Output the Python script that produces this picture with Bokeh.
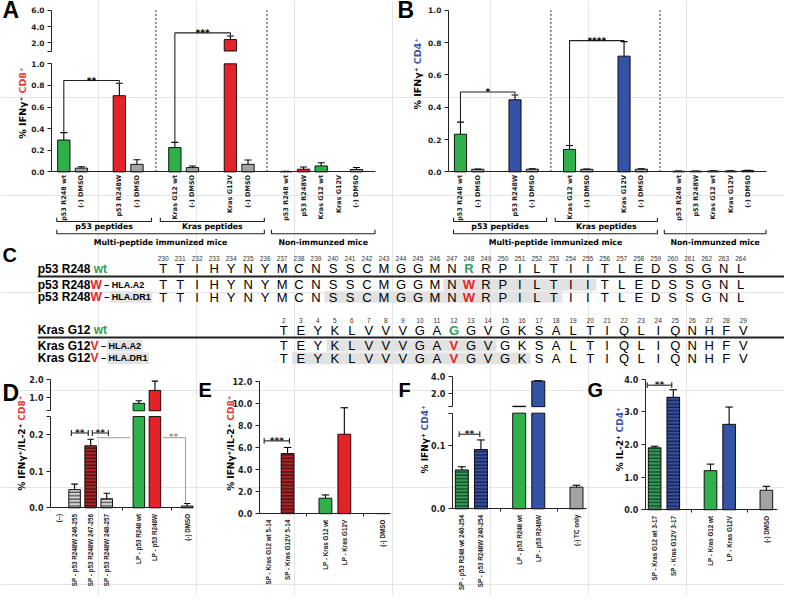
import math
from bokeh.plotting import figure
from bokeh.models import Range1d, LinearAxis, FixedTicker, ColumnDataSource
from bokeh.core.properties import value, field
from bokeh.embed import file_html
from bokeh.resources import INLINE

# ============================ data ============================
AB_labels = ["p53 R248 wt", "(-) DMSO", "p53 R248W", "(-) DMSO",
             "Kras G12 wt", "(-) DMSO", "Kras G12V", "(-) DMSO",
             "p53 R248 wt", "p53 R248W", "Kras G12 wt", "Kras G12V", "(-) DMSO"]
AB_groups = [2, 2, 2, 2, 5]
AB_kinds = ["wt", "neg", "mut", "neg", "wt", "neg", "mut", "neg",
            "wt", "mut", "wt", "mut", "neg"]
A_mean = [0.295, 0.035, 0.705, 0.07, 0.225, 0.04, 2.40, 0.07,
          0.004, 0.025, 0.055, 0.0, 0.022]
A_sem = [0.068, 0.012, 0.115, 0.042, 0.048, 0.014, 0.45, 0.04,
         0.002, 0.02, 0.029, 0.0, 0.018]
B_mean = [0.233, 0.016, 0.446, 0.017, 0.139, 0.016, 0.716, 0.017,
          0.004, 0.004, 0.005, 0.005, 0.008]
B_sem = [0.075, 0.002, 0.03, 0.002, 0.024, 0.002, 0.09, 0.002,
         0.001, 0.001, 0.001, 0.001, 0.002]
AB_peptide_groups = ["p53 peptides", "Kras peptides"]
AB_mouse_groups = ["Multi-peptide immunized mice", "Non-immunzed mice"]
A_sig = ["**", "***"]
B_sig = ["*", "****"]

D_labels = ["(--)", "SP - p53 R248W 246-255", "SP - p53 R248W 247-256",
            "SP - p53 R248W 248-257", "LP - p53 R248 wt", "LP - p53 R248W", "(-) DMSO"]
D_groups = [4, 2, 1]
D_kinds = ["none", "spg", "spr", "spg", "wt", "mut", "neg"]
D_mean = [0.0, 0.05, 0.17, 0.025, 0.70, 1.40, 0.005]
D_sem = [0.0, 0.015, 0.018, 0.015, 0.14, 0.50, 0.007]

E_labels = ["SP - Kras G12 wt 5-14", "SP - Kras G12V 5-14", "LP - Kras G12 wt",
            "LP - Kras G12V", "(-) DMSO"]
E_groups = [2, 2, 1]
E_kinds = ["none", "spr", "wt", "mut", "neg"]
E_mean = [0.0, 5.45, 1.40, 7.20, 0.02]
E_sem = [0.0, 0.55, 0.30, 2.40, 0.0]

F_labels = ["SP - p53 R248 wt 240-254", "SP - p53 R248W 240-254", "LP - p53 R248 wt",
            "LP - p53 R248W", "(-) TC only"]
F_groups = [2, 2, 1]
F_kinds = ["spgr", "spb", "wt", "mutb", "neg"]
F_mean = [0.061, 0.093, 0.50, 3.45, 0.034]
F_sem = [0.005, 0.015, 0.0, 0.05, 0.003]

G_labels = ["SP - Kras G12 wt 3-17", "SP - Kras G12V 3-17", "LP - Kras G12 wt",
            "LP - Kras G12V", "(-) DMSO"]
G_groups = [2, 2, 1]
G_kinds = ["spgr", "spb", "wt", "mutb", "neg"]
G_mean = [1.90, 3.45, 1.20, 2.62, 0.60]
G_sem = [0.05, 0.23, 0.20, 0.53, 0.12]

p53_first = 230
p53_wt = "TTIHYNYMCNSSCMGGMNRRPILTIITLEDSSGNL"
p53_mut = (248, "W")
p53_hla = [("HLA.A2", 247, 255), ("HLA.DR1", 240, 253)]
kras_first = 2
kras_wt = "TEYKLVVVGAGGVGKSALTIQLIQNHFV"
kras_mut = (12, "V")
kras_hla = [("HLA.A2", 5, 14), ("HLA.DR1", 3, 16)]

# ============================ styling ============================
GREEN = "#2fb04a"; RED = "#e42328"; BLUE = "#3453a6"; GRAY = "#a3a3a3"
GREEN_T = "#2f9e58"; RED_T = "#e8262a"; CD8_C = "#e5393a"; CD4_C = "#4055a8"
STY = {"wt": (GREEN, None), "mut": (RED, None), "mutb": (BLUE, None), "neg": (GRAY, None),
       "spg": ("#d2d2d2", "#3a3a3a"), "spr": ("#a8262a", "#3a0909"),
       "spgr": ("#38985a", "#0b3818"), "spb": ("#3a4f9e", "#0d1640")}
FD = "DejaVu Sans"
FL = "Liberation Sans"
INK = "#222222"

REF_W, REF_H = 800, 611
SX = 784 / 800.0


class Map:
    def __init__(self, v0, p0, v1, p1):
        self.v0, self.p0 = v0, p0
        self.k = (p1 - p0) / (v1 - v0)

    def p(self, v):
        return self.p0 + (v - self.v0) * self.k

    def v(self, px):
        return self.v0 + (px - self.p0) / self.k


XR, YR = {}, {}


def xmap(name, m):
    XR[name] = Range1d(start=m.v(0), end=m.v(REF_W))
    return m


def ymap(name, m):
    YR[name] = Range1d(start=m.v(REF_H), end=m.v(0))
    return m


p = figure(width=784, height=595, x_range=Range1d(0, REF_W), y_range=Range1d(REF_H, 0),
           x_axis_location=None, y_axis_location=None, toolbar_location=None,
           output_backend="svg", min_border=0, min_border_left=0, min_border_right=0,
           min_border_top=0, min_border_bottom=0, outline_line_color=None,
           background_fill_color="white", border_fill_color="white")

xA = xmap("A", Map(0, 52, 18.4, 383)); yAlo = ymap("Alo", Map(0, 176, 1, 65)); yAhi = ymap("Ahi", Map(2, 43.5, 6, 10))
xB = xmap("B", Map(0, 457, 18.4, 782)); yB = ymap("B", Map(0, 176, 1, 10))
xD = xmap("D", Map(0, 51, 1, 67.4)); yDlo = ymap("Dlo", Map(0, 521, 0.1, 483.5)); yDhi = ymap("Dhi", Map(1, 408, 2, 389))
xE = xmap("E", Map(0, 264, 1, 283.3)); yE = ymap("E", Map(0, 527, 12, 391))
xF = xmap("F", Map(0, 461, 1, 480.5)); yFlo = ymap("Flo", Map(0, 522, 0.1, 456.5)); yFhi = ymap("Fhi", Map(2, 403.5, 4, 386))
xG = xmap("G", Map(0, 658, 1, 677)); yG = ymap("G", Map(0, 523, 4, 389))
p.extra_x_ranges = XR
p.extra_y_ranges = YR


def T(xs, ys, texts, size, color="black", font=FD, style="bold", align="center",
      base="middle", angle=0.0, xn="default", yn="default"):
    p.text(x=list(xs), y=list(ys), text=list(texts), text_font=value(font),
           text_font_size=value(f"{size}px"), text_font_style=style, text_color=color,
           text_align=align, text_baseline=base, angle=angle,
           x_range_name=xn, y_range_name=yn)


def positions(groups, start, gap):
    out, x = [], start
    for n in groups:
        for _ in range(n):
            out.append(round(x, 3))
            x += 1.0
        x += gap
    return out


def draw_bars(xn, pos, mean, sem, kinds, segs, bw, cw, remap=None):
    remap = remap or {}
    for (yn, lo, hi) in segs:
        groups = {}
        for i, (m, k) in enumerate(zip(mean, kinds)):
            k = remap.get(k, k)
            if k == "none" or m <= lo:
                continue
            groups.setdefault(STY[k][1] is not None, []).append((i, k))
        for hatched, items in groups.items():
            src = ColumnDataSource(dict(
                x=[pos[i] for i, _ in items],
                top=[min(mean[i], hi) for i, _ in items],
                bottom=[lo] * len(items),
                fc=[STY[k][0] for _, k in items],
                hc=[STY[k][1] or "black" for _, k in items]))
            kw = dict(hatch_pattern="horizontal_line", hatch_color=field("hc"),
                      hatch_scale=3.4, hatch_weight=1.1) if hatched else {}
            p.vbar(x="x", top="top", bottom="bottom", width=bw, source=src,
                   fill_color=field("fc"), line_color="black", line_width=0.9,
                   x_range_name=xn, y_range_name=yn, **kw)
        wx, w0, w1, cx0, cx1, cy = [], [], [], [], [], []
        for i, (m, s) in enumerate(zip(mean, sem)):
            if s <= 0 or kinds[i] == "none":
                continue
            t = m + s
            a, b = max(m, lo), min(t, hi)
            if b > a:
                wx.append(pos[i]); w0.append(a); w1.append(b)
            if lo <= t <= hi:
                cx0.append(pos[i] - cw); cx1.append(pos[i] + cw); cy.append(t)
        if wx:
            p.segment(x0=wx, y0=w0, x1=wx, y1=w1, line_color="black", line_width=1.1,
                      x_range_name=xn, y_range_name=yn)
        if cy:
            p.segment(x0=cx0, y0=cy, x1=cx1, y1=cy, line_color="black", line_width=1.1,
                      x_range_name=xn, y_range_name=yn)


def y_axis(xn, yn, lo, hi, ticks, labels, size=7.5):
    ax = LinearAxis(x_range_name=xn, y_range_name=yn, fixed_location=0, bounds=(lo, hi),
                    ticker=FixedTicker(ticks=list(ticks), minor_ticks=[]),
                    major_label_overrides={t: l for t, l in zip(ticks, labels)},
                    major_tick_out=4, major_tick_in=0, minor_tick_out=0, minor_tick_in=0,
                    major_label_standoff=3, major_label_text_font=FD,
                    major_label_text_font_style="bold", major_label_text_font_size=f"{size}px",
                    axis_line_color=INK, axis_line_width=1, major_tick_line_color=INK,
                    major_label_text_color=INK)
    p.add_layout(ax, "left")


def x_axis(xn, yn, pos, labels, xend, empties=(), size=6.5, font=FD):
    ax = LinearAxis(x_range_name=xn, y_range_name=yn, fixed_location=0, bounds=(0, xend),
                    ticker=FixedTicker(ticks=list(pos), minor_ticks=list(empties)),
                    major_label_overrides={x: l for x, l in zip(pos, labels)},
                    major_label_orientation=math.pi / 2, major_tick_out=0, major_tick_in=0,
                    minor_tick_out=3, minor_tick_in=0, major_label_standoff=3,
                    major_label_text_font=font, major_label_text_font_style="bold",
                    major_label_text_font_size=f"{size}px", axis_line_color=INK,
                    axis_line_width=1, minor_tick_line_color=INK, major_label_text_color=INK)
    p.add_layout(ax, "below")


def elbow(xn, yn, x0, y0, x1, y1, h, label, size=9):
    p.multi_line([[x0, x0, x1, x1]], [[y0, h, h, y1]], x_range_name=xn, y_range_name=yn,
                 line_color=INK, line_width=1.1)
    T([(x0 + x1) / 2], [h], [label], size, xn=xn, yn=yn)


def hbar(xn, yn, m, x0, x1, h, label, color=INK, size=9):
    d = 3.0 / abs(m.k)
    p.multi_line([[x0, x0], [x0, x1], [x1, x1]], [[h - d, h + d], [h, h], [h - d, h + d]],
                 x_range_name=xn, y_range_name=yn, line_color=color, line_width=1.1)
    T([(x0 + x1) / 2], [h], [label], size, color=color, xn=xn, yn=yn)


def ytitle(x, y, black, colored, ccol, size=8.5):
    T([x], [y + 1.5], [black], size, align="right", angle=math.pi / 2)
    T([x], [y - 1.5], [colored], size, color=ccol, align="left", angle=math.pi / 2)


# ============================ panels A / B ============================
ab_pos = positions(AB_groups, 0.7, 1.15)
ab_div = [(ab_pos[3] + ab_pos[4]) / 2, (ab_pos[7] + ab_pos[8]) / 2]
AB_END = 18.4

draw_bars("A", ab_pos, A_mean, A_sem, AB_kinds, [("Alo", 0, 1.0), ("Ahi", 1.0, 6.0)], 0.7, 0.2)
y_axis("A", "Alo", 0, 1.0, [0, 0.2, 0.4, 0.6, 0.8, 1.0], ["0.0", "0.2", "0.4", "0.6", "0.8", "1.0"])
y_axis("A", "Ahi", 1.0, 6.0, [1.0, 2.0, 4.0, 6.0], ["", "2.0", "4.0", "6.0"])
x_axis("A", "Alo", ab_pos, AB_labels, AB_END)
p.segment(x0=ab_div, y0=[0, 0], x1=ab_div, y1=[yAlo.v(10)] * 2, line_color=INK,
          line_dash="2 2", line_width=1, x_range_name="A", y_range_name="Alo")
elbow("A", "Alo", ab_pos[0], A_mean[0] + A_sem[0], ab_pos[2], A_mean[2] + A_sem[2] + 0.005,
      0.845, A_sig[0])
elbow("A", "Ahi", ab_pos[4], yAhi.v(yAlo.p(A_mean[4] + A_sem[4])), ab_pos[6],
      A_mean[6] + A_sem[6] + 0.05, 3.22, A_sig[1])

draw_bars("B", ab_pos, B_mean, B_sem, AB_kinds, [("B", 0, 1.0)], 0.7, 0.2, remap={"mut": "mutb"})
y_axis("B", "B", 0, 1.0, [0, 0.2, 0.4, 0.6, 0.8, 1.0], ["0.0", "0.2", "0.4", "0.6", "0.8", "1.0"])
x_axis("B", "B", ab_pos, AB_labels, AB_END)
p.segment(x0=ab_div, y0=[0, 0], x1=ab_div, y1=[1.0, 1.0], line_color=INK,
          line_dash="2 2", line_width=1, x_range_name="B", y_range_name="B")
elbow("B", "B", ab_pos[0], B_mean[0] + B_sem[0], ab_pos[2], B_mean[2] + B_sem[2] + 0.004,
      0.494, B_sig[0])
elbow("B", "B", ab_pos[4], B_mean[4] + B_sem[4], ab_pos[6], B_mean[6] + B_sem[6] + 0.003,
      0.812, B_sig[1])

sub_spans = [(0.3, ab_div[0] - 0.25), (ab_div[0] + 0.25, ab_div[1] - 0.15)]
mice_spans = [(0.3, ab_div[1] - 0.15), (ab_div[1] + 0.25, AB_END - 0.05)]
for xn in ("A", "B"):
    for spans, texts, yl, yt in ((sub_spans, AB_peptide_groups, 227, 232.5),
                                 (mice_spans, AB_mouse_groups, 239.5, 248)):
        p.multi_line([[a, a, b, b] for a, b in spans], [[yl - 4, yl, yl, yl - 4]] * len(spans),
                     x_range_name=xn, line_color=INK, line_width=1.1)
        T([(a + b) / 2 for a, b in spans], [yt] * len(spans), texts, 7.8, xn=xn)

ytitle(22, 97, "% IFNγ⁺", "CD8⁺", CD8_C, 9.5)
ytitle(425, 67, "% IFNγ⁺", "CD4⁺", CD4_C, 9.5)

# ============================ panel C ============================
ARIALB = {' ': 278, 'p': 611, '5': 556, '3': 556, 'R': 722, '2': 556, '4': 556, '8': 556,
          'w': 778, 't': 333, 'W': 944, 'K': 722, 'r': 389, 'a': 556, 's': 556, 'G': 778,
          '1': 556, 'V': 667, '–': 556, 'H': 722, 'L': 611, 'A': 722, '.': 278, 'D': 722}


def tw(s, size):
    return sum(ARIALB.get(c, 556) for c in s) * size / 1000.0 / SX


C_X0 = 38


def seq_block(first, seq, xs, mut, hla, boxed, y_num, y_wt, y_line, row_ys, name):
    n = len(seq)
    half = (xs[1] - xs[0]) / 2
    for (tag, a, b), y in zip(hla, row_ys):
        p.quad(left=[xs[a - first] - half], right=[xs[b - first] + half],
               top=[y - 6], bottom=[y + 6], fill_color="#e2e2e2", line_color=None)
    T(xs, [y_num] * n, [str(first + k) for k in range(n)], 6.5, color="#333333",
      font=FL, style="normal")
    mi = mut[0] - first
    for y, mutant, col in [(y_wt, False, GREEN_T)] + [(ry, True, RED_T) for ry in row_ys]:
        letters = list(seq)
        if mutant:
            letters[mi] = mut[1]
        idx = [k for k in range(n) if k != mi]
        T([xs[k] for k in idx], [y] * len(idx), [letters[k] for k in idx], 13,
          font=FL, style="normal")
        T([xs[mi]], [y], [letters[mi]], 13, color=col, font=FL)
    T([C_X0], [y_wt], [name], 12, font=FL, align="left")
    T([C_X0 + tw(name + " ", 12)], [y_wt], ["wt"], 12, color=GREEN_T, font=FL, align="left")
    for (tag, a, b), y, bx in zip(hla, row_ys, boxed):
        x = C_X0
        T([x], [y], [name], 12, font=FL, align="left")
        x += tw(name, 12)
        T([x], [y], [mut[1]], 12, color=RED_T, font=FL, align="left")
        x += tw(mut[1], 12) + tw(" ", 9)
        T([x], [y], ["–"], 9, font=FL, align="left")
        x += tw("– ", 9)
        if bx:
            p.quad(left=[x - 1.5], right=[x + tw(tag, 9) + 1.5], top=[y - 6], bottom=[y + 6],
                   fill_color="#e2e2e2", line_color=None)
        T([x], [y], [tag], 9, font=FL, align="left")
    p.segment(x0=[C_X0], y0=[y_line], x1=[REF_W], y1=[y_line], line_color=INK, line_width=2)


p53_xs = [166 + k * 17.33 for k in range(len(p53_wt))]
kras_xs = [289 + k * 17.37 for k in range(len(kras_wt))]
seq_block(p53_first, p53_wt, p53_xs, p53_mut, p53_hla, [False, True],
          264.5, 275.5, 283.5, [292, 304.5], "p53 R248")
seq_block(kras_first, kras_wt, kras_xs, kras_mut, kras_hla, [True, True],
          328.5, 338.5, 346, [354.5, 367.5], "Kras G12")

# ============================ panels D - G ============================
LBL = 6.3
d_pos = positions(D_groups, 0.5, 1.0)
draw_bars("D", d_pos, D_mean, D_sem, D_kinds, [("Dlo", 0, 0.25), ("Dhi", 0.3, 2.0)], 0.72, 0.2)
y_axis("D", "Dlo", 0, 0.25, [0, 0.1, 0.2, 0.25], ["0.0", "0.1", "0.2", ""], 8)
y_axis("D", "Dhi", 0.3, 2.0, [0.3, 1.0, 2.0], ["", "1.0", "2.0"], 8)
x_axis("D", "Dlo", d_pos, D_labels, 8.9, [4.5, 7.5], LBL, FL)
hbar("D", "Dlo", yDlo, d_pos[1] - 0.2, d_pos[2] - 0.15, 0.205, "**")
hbar("D", "Dlo", yDlo, d_pos[2] + 0.1, d_pos[3] + 0.1, 0.205, "**")
p.multi_line([[2.9, 4.95], [7.0, 8.4, 8.4]],
             [[0.192, 0.192], [0.192, 0.192, D_mean[6] + D_sem[6]]],
             x_range_name="D", y_range_name="Dlo", line_color="#9a9a9a", line_width=1)
T([7.65], [0.195], ["**"], 9, color="#9a9a9a", xn="D", yn="Dlo")
ytitle(22, 433, "% IFNγ⁺/IL-2⁺", "CD8⁺", CD8_C, 9)

e_pos = positions(E_groups, 0.5, 1.0)
draw_bars("E", e_pos, E_mean, E_sem, E_kinds, [("E", 0, 12.0)], 0.68, 0.2)
y_axis("E", "E", 0, 12.0, [0, 2, 4, 6, 8, 10, 12],
       ["0.0", "2.0", "4.0", "6.0", "8.0", "10.0", "12.0"], 8)
x_axis("E", "E", e_pos, E_labels, 6.95, [2.5, 5.5], LBL, FL)
hbar("E", "E", yE, e_pos[0] - 0.24, e_pos[1] + 0.1, 6.6, "***")
ytitle(235, 433, "% IFNγ⁺/IL-2⁺", "CD8⁺", CD8_C, 9)

f_pos = positions(F_groups, 0.5, 1.0)
draw_bars("F", f_pos, F_mean, F_sem, F_kinds, [("Flo", 0, 0.15), ("Fhi", 0.45, 4.0)], 0.68, 0.2)
y_axis("F", "Flo", 0, 0.15, [0, 0.1, 0.15], ["0.0", "0.1", ""], 8)
y_axis("F", "Fhi", 0.45, 4.0, [0.45, 2.0, 4.0], ["", "2.0", "4.0"], 8)
x_axis("F", "Flo", f_pos, F_labels, 7.0, [2.5, 5.5], LBL, FL)
hbar("F", "Flo", yFlo, f_pos[0] - 0.14, f_pos[1] - 0.06, 0.117, "**")
ytitle(433, 443, "% IFNγ⁺", "CD4⁺", CD4_C, 9)

g_pos = positions(G_groups, 0.5, 1.0)
draw_bars("G", g_pos, G_mean, G_sem, G_kinds, [("G", 0, 4.0)], 0.68, 0.2)
y_axis("G", "G", 0, 4.0, [0, 1, 2, 3, 4], ["0.0", "1.0", "2.0", "3.0", "4.0"], 8)
x_axis("G", "G", g_pos, G_labels, 7.1, [2.5, 5.5], LBL, FL)
hbar("G", "G", yG, g_pos[0] - 0.4, g_pos[1] - 0.08, 3.82, "**")
ytitle(632, 445, "% IL-2⁺", "CD4⁺", CD4_C, 9)

# ============================ panel letters ============================
T([2, 405], [10, 10], ["A", "B"], 23, font=FL, align="left")
T([2], [403.5], ["D"], 23, font=FL, align="left")
T([2, 202, 406, 599], [261, 400, 400, 400], ["C", "E", "F", "G"], 20, font=FL, align="left")

open("out.html", "w").write(file_html(p, INLINE, "figure"))
